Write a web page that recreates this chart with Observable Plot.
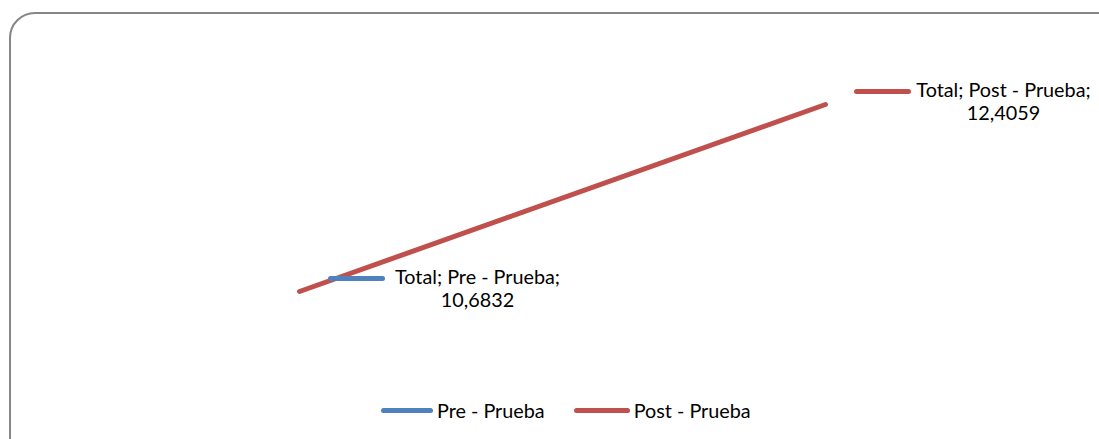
<!DOCTYPE html>
<html><head><meta charset="utf-8">
<script src="https://cdn.jsdelivr.net/npm/d3@7"></script>
<script src="https://cdn.jsdelivr.net/npm/@observablehq/plot@0.6"></script>
<style>
html,body{margin:0;padding:0;background:#fff;overflow:hidden;}
#wrap{position:relative;width:1099px;height:439px;}
#frame{position:absolute;left:9px;top:12px;width:1200px;height:500px;border:2px solid #868686;border-radius:26px;box-sizing:border-box;}
#chart{position:absolute;left:0;top:0;}
#legend{position:absolute;left:381px;top:397px;font-family:Lato,"Open Sans",sans-serif;font-size:19.8px;color:#000;display:flex;align-items:center;line-height:26px;}
.sw{display:inline-block;height:5px;border-radius:3px;}
</style></head>
<body><div id="wrap"><div id="frame"></div><div id="chart"></div><div id="legend"></div></div>
<script>
const categories = ["Pre - Prueba", "Post - Prueba"];
const values = [10.6832, 12.4059];
const labels = ["10,6832", "12,4059"];
const colors = ["#4F81BD", "#C0504D"];

const data = categories.map((c, i) => ({series: c, i, value: values[i], label: labels[i]}));

const keySymbol = {draw(ctx) { ctx.moveTo(-26, 0); ctx.lineTo(26, 0); }};

const plot = Plot.plot({
  width: 1099, height: 439,
  marginLeft: 299, marginRight: 274, marginTop: 104, marginBottom: 148,
  x: {domain: [0, 1], axis: null},
  y: {domain: [values[0], values[1]], axis: null},
  color: {domain: categories, range: colors},
  style: {fontFamily: "Lato, 'Open Sans', sans-serif", background: "transparent"},
  marks: [
    Plot.line(data, {x: "i", y: "value", stroke: colors[1], strokeWidth: 5}),
    Plot.dot(data, {x: "i", y: "value", symbol: keySymbol, stroke: "series", fill: "none", strokeWidth: 5, strokeLinecap: "round", dx: 57, dy: -13}),
    Plot.text(data, {x: "i", y: "value", text: d => "Total; " + d.series + ";", dx: 178, dy: -14, fill: "#000", fontSize: 19.8}),
    Plot.text(data, {x: "i", y: "value", text: "label", dx: 178, dy: 9, fill: "#000", fontSize: 19.8})
  ]
});
document.getElementById("chart").appendChild(plot);

const lg = document.getElementById("legend");
categories.forEach((c, i) => {
  const s = document.createElement("span");
  s.className = "sw"; s.style.width = i === 0 ? "52px" : "56px"; s.style.background = colors[i];
  const t = document.createElement("span");
  t.textContent = c; t.style.marginLeft = "4px"; t.style.marginRight = i === 0 ? "29px" : "0";
  lg.appendChild(s); lg.appendChild(t);
});
</script></body></html>
